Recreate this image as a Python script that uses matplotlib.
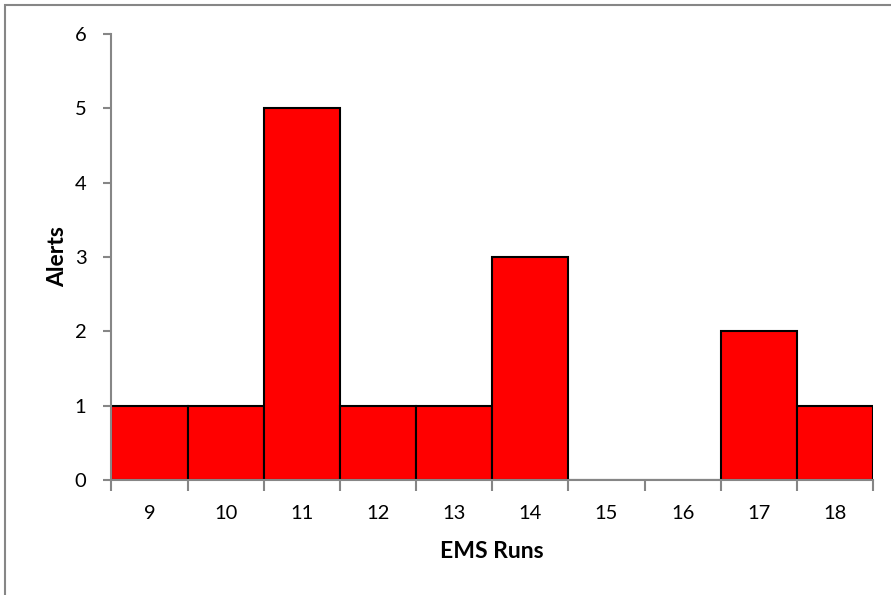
import matplotlib
matplotlib.use("Agg")
import matplotlib.pyplot as plt
from matplotlib.patches import Rectangle
import numpy as np

runs = [9, 10, 11, 12, 13, 14, 15, 16, 17, 18]
alerts = [1, 1, 5, 1, 1, 3, 0, 0, 2, 1]
yticks = [0, 1, 2, 3, 4, 5, 6]

plt.rcParams["font.family"] = ["Lato", "DejaVu Sans"]

fig = plt.figure(figsize=(8.91, 5.95), dpi=100)
ax = fig.add_axes([0.1251, 0.1933, 0.8547, 0.7496])

x = np.arange(len(runs))
ax.bar(x, alerts, width=1.0, color="#ff0000", edgecolor="black", linewidth=1.5, zorder=2)

ax.set_xlim(-0.5, len(runs) - 0.5)
ax.set_ylim(0, 6)
ax.set_yticks(yticks)
ax.set_xticks(x)
ax.set_xticklabels([str(r) for r in runs])
ax.set_xticks(np.arange(len(runs) + 1) - 0.5, minor=True)

grey = "#868686"
for s in ["top", "right"]:
    ax.spines[s].set_visible(False)
for s in ["left", "bottom"]:
    ax.spines[s].set_color(grey)
    ax.spines[s].set_linewidth(1.5)
    ax.spines[s].set_zorder(4)

ax.tick_params(axis="x", which="major", length=0, labelsize=14.5, pad=18)
ax.tick_params(axis="x", which="minor", length=8, width=1.5, color=grey)
ax.tick_params(axis="y", length=6, width=1.5, color=grey, labelsize=14.5, pad=12)

ax.set_xlabel("EMS Runs", fontsize=16.5, fontweight="bold", labelpad=14)
ax.set_ylabel("Alerts", fontsize=16.5, fontweight="bold", labelpad=5)

fig.patches.append(Rectangle((5 / 891, -0.1), 2, 1.1 - 5 / 595, transform=fig.transFigure,
                             fill=False, edgecolor=grey, linewidth=1.5))

fig.savefig("out.png", dpi=100, facecolor="white")
